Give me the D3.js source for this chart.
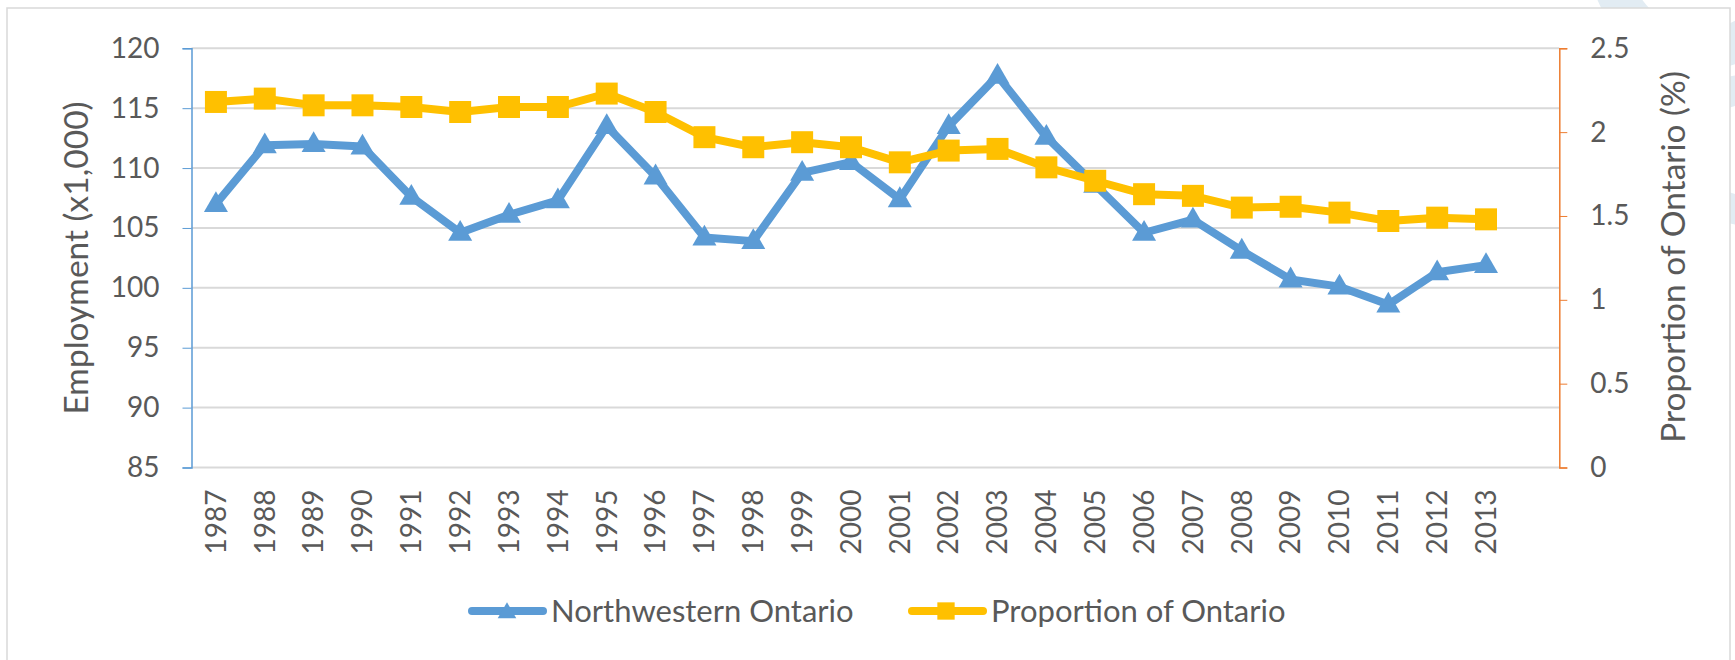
<!DOCTYPE html>
<html lang="en">
<head>
	<meta charset="utf-8"/>
	<title>Northwestern Ontario Employment</title>
	<script src="https://d3js.org/d3.v7.min.js" charset="utf-8"></script>
	<style>
	body {
		margin: 0;
		background: #fff;
	}
	text {
		font-family: Lato, "Open Sans", sans-serif;
		fill: #595959;
	}
	.grid line {
		stroke: #d9d9d9;
		stroke-width: 2px;
	}
	.axis .domain {
		stroke-width: 1.5px;
	}
	</style>
</head>
<body>
<svg width="1735" height="660" id="chart"></svg>

<script>
	// data
	var years = ["1987","1988","1989","1990","1991","1992","1993","1994","1995","1996",
		"1997","1998","1999","2000","2001","2002","2003","2004","2005","2006",
		"2007","2008","2009","2010","2011","2012","2013"];
	var employment = [107.0, 111.9, 112.0, 111.8, 107.6, 104.6, 106.1, 107.3, 113.5, 109.3,
		104.2, 103.9, 109.6, 110.5, 107.4, 113.5, 117.7, 112.6, 108.6, 104.6,
		105.7, 103.1, 100.7, 100.1, 98.6, 101.3, 101.9];
	var proportion = [2.18, 2.20, 2.16, 2.16, 2.15, 2.12, 2.15, 2.15, 2.23, 2.12,
		1.97, 1.91, 1.94, 1.91, 1.82, 1.89, 1.90, 1.79, 1.71, 1.63,
		1.62, 1.55, 1.555, 1.52, 1.47, 1.49, 1.48];
	var leftTicks = [85, 90, 95, 100, 105, 110, 115, 120];
	var rightTicks = [0, 0.5, 1, 1.5, 2, 2.5];
	var seriesNames = ["Northwestern Ontario", "Proportion of Ontario"];

	var svg = d3.select("#chart");

	// plot box (window.top is reserved, so no plain "top" here)
	var plotLeft = 191.5, plotRight = 1559.3, plotTop = 48.3, plotBottom = 467.5;
	var blue = "#5b9bd5", gold = "#ffc000", orange = "#ed7d31";

	// faint watermark behind the chart box (top right corner)
	var wm = svg.append("g").attr("fill", "none").attr("stroke", "#e2ecf3");
	wm.append("circle").attr("cx", 1700).attr("cy", -40).attr("r", 90).attr("stroke-width", 40);
	wm.append("circle").attr("cx", 1745).attr("cy", 150).attr("r", 60).attr("stroke-width", 30);

	// chart box
	svg.append("rect")
		.attr("x", 7).attr("y", 8)
		.attr("width", 1723).attr("height", 660)
		.attr("fill", "#fff")
		.attr("stroke", "#d9d9d9")
		.attr("stroke-width", 1.5);

	// the sheet had one blank row after 2013, so keep an empty slot
	var x = d3.scaleBand()
		.domain(years.concat(["blank"]))
		.range([plotLeft, plotRight]);

	var yLeft = d3.scaleLinear().domain([85, 120]).range([plotBottom, plotTop]);
	var yRight = d3.scaleLinear().domain([0, 2.5]).range([plotBottom, plotTop]);

	function cx(d, i) { return x(years[i]) + x.bandwidth() / 2; }

	// gridlines
	svg.append("g")
		.attr("class", "grid")
		.selectAll("line")
		.data(leftTicks)
		.enter().append("line")
			.attr("x1", plotLeft)
			.attr("x2", plotRight)
			.attr("y1", function(d) { return yLeft(d); })
			.attr("y2", function(d) { return yLeft(d); });

	// left axis
	var axL = svg.append("g")
		.attr("class", "axis")
		.attr("transform", "translate(" + plotLeft + ",0)")
		.call(d3.axisLeft(yLeft).tickValues(leftTicks).tickSize(9).tickPadding(23).tickSizeOuter(9));
	axL.selectAll("path, line").attr("stroke", blue);
	axL.selectAll("text").attr("font-size", 28).attr("font-family", null).attr("fill", null);

	// right axis, plain numbers like Excel (2 not 2.0)
	var axR = svg.append("g")
		.attr("class", "axis")
		.attr("transform", "translate(" + plotRight + ",0)")
		.call(d3.axisRight(yRight).tickValues(rightTicks).tickFormat(function(d) { return String(d); })
			.tickSize(8).tickPadding(23).tickSizeOuter(8));
	axR.selectAll("path, line").attr("stroke", orange);
	axR.selectAll("text").attr("font-size", 28).attr("font-family", null).attr("fill", null);

	// category axis, labels turned upright
	var axX = svg.append("g")
		.attr("transform", "translate(0," + plotBottom + ")")
		.call(d3.axisBottom(x).tickValues(years).tickSize(0));
	axX.select(".domain").remove();
	axX.selectAll("text")
		.attr("font-size", 28).attr("font-family", null).attr("fill", null)
		.attr("transform", "rotate(-90)")
		.attr("x", -22)
		.attr("y", 0)
		.attr("dy", "0.35em")
		.style("text-anchor", "end");

	// axis titles
	svg.append("text")
		.attr("transform", "translate(88,258) rotate(-90)")
		.attr("text-anchor", "middle")
		.attr("font-size", 33.5)
		.text("Employment (x1,000)");

	svg.append("text")
		.attr("transform", "translate(1685,257) rotate(-90)")
		.attr("text-anchor", "middle")
		.attr("font-size", 33.5)
		.text("Proportion of Ontario (%)");

	var triangle = d3.symbol().type(d3.symbolTriangle);
	var square = d3.symbol().type(d3.symbolSquare);

	// employment line
	var lineL = d3.line()
		.x(cx)
		.y(function(d) { return yLeft(d); });

	svg.append("path")
		.datum(employment)
		.attr("d", lineL)
		.attr("fill", "none")
		.attr("stroke", blue)
		.attr("stroke-width", 8)
		.attr("stroke-linejoin", "round");

	svg.append("g")
		.selectAll("path")
		.data(employment)
		.enter().append("path")
			.attr("d", triangle.size(250))
			.attr("fill", blue)
			.attr("transform", function(d, i) { return "translate(" + cx(d, i) + "," + (yLeft(d) + 1) + ")"; });

	// proportion line
	var lineR = d3.line()
		.x(cx)
		.y(function(d) { return yRight(d); });

	svg.append("path")
		.datum(proportion)
		.attr("d", lineR)
		.attr("fill", "none")
		.attr("stroke", gold)
		.attr("stroke-width", 8)
		.attr("stroke-linejoin", "round");

	svg.append("g")
		.selectAll("path")
		.data(proportion)
		.enter().append("path")
			.attr("d", square.size(484))
			.attr("fill", gold)
			.attr("transform", function(d, i) { return "translate(" + cx(d, i) + "," + yRight(d) + ")"; });

	// legend
	var legendX = [468, 908], legendY = 611;
	var legend = svg.append("g")
		.selectAll("g")
		.data(seriesNames)
		.enter().append("g")
			.attr("transform", function(d, i) { return "translate(" + legendX[i] + "," + legendY + ")"; });

	legend.append("line")
		.attr("x1", 4).attr("x2", 75)
		.attr("stroke", function(d, i) { return i ? gold : blue; })
		.attr("stroke-width", 8)
		.attr("stroke-linecap", "round");

	legend.append("path")
		.attr("d", function(d, i) { return i ? square.size(300)() : triangle.size(150)(); })
		.attr("fill", function(d, i) { return i ? gold : blue; })
		.attr("transform", function(d, i) { return "translate(" + (i ? 38 : 39) + "," + (i ? 0 : 2) + ")"; });

	legend.append("text")
		.attr("x", 83)
		.attr("dy", "0.35em")
		.attr("font-size", 31)
		.text(function(d) { return d; });
</script>
</body>
</html>
